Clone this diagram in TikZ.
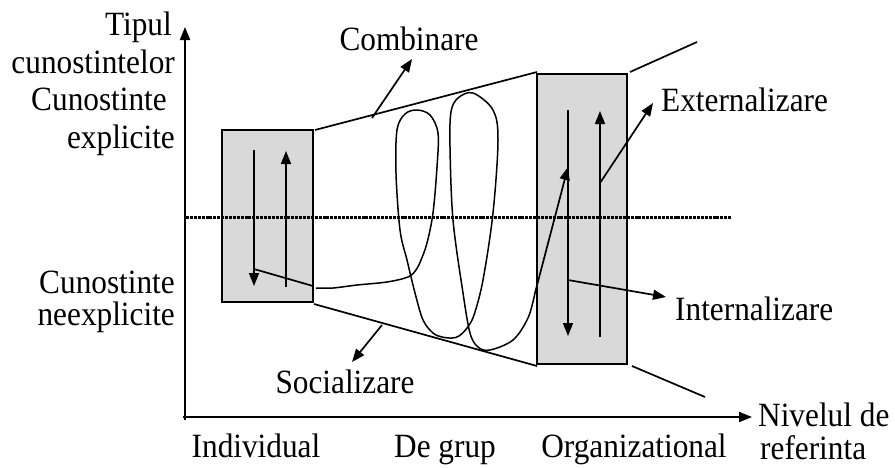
\documentclass[tikz,border=0pt]{standalone}
\usepackage{fontspec}
\setmainfont{Liberation Serif}[FakeStretch=0.92]
\usetikzlibrary{arrows.meta}
\begin{document}
\begin{tikzpicture}[x=1pt,y=-1pt,
  lbl/.style={inner sep=0pt,font=\fontsize{34}{40}\selectfont},
  boxnode/.style={draw,line width=1.8pt,fill=gray!30,inner sep=0pt},
  ln/.style={line width=1.7pt},
  arr/.style={line width=1.7pt,-{Triangle[length=13pt,width=10pt]}},
  axisarr/.style={line width=2pt,-{Triangle[length=13pt,width=10pt]}},
  dots/.style={line width=3pt,dash pattern=on 3pt off 0.9pt}]
\useasboundingbox (0,0) rectangle (895,467);
% axes
\coordinate (O) at (185,420);
\coordinate (Ytop) at (185,27);
\coordinate (Oh) at (183,417);
\coordinate (Xend) at (752,417);
\draw[axisarr] (O) -- (Ytop);
\draw[axisarr] (Oh) -- (Xend);
% axis labels
\node[lbl,anchor=base east] (t1) at (172,35) {Tipul};
\node[lbl,anchor=base east] (t2) at (175,73) {cunostintelor};
\node[lbl,anchor=base east] (t3) at (167,110) {Cunostinte};
\node[lbl,anchor=base east] (t4) at (175,148) {explicite};
\node[lbl,anchor=base east] (t5) at (175,293) {Cunostinte};
\node[lbl,anchor=base east] (t6) at (175,325) {neexplicite};
\node[lbl,anchor=base] (b1) at (256,457) {Individual};
\node[lbl,anchor=base] (b2) at (445,457) {De grup};
\node[lbl,anchor=base] (b3) at (634,457) {Organizational};
\node[lbl,anchor=base west] (n1) at (758,426) {Nivelul de};
\node[lbl,anchor=base west] (n2) at (760,459) {referinta};
% boxes
\node[boxnode,minimum width=91pt,minimum height=172pt] (boxL) at (267.5,216) {};
\node[boxnode,minimum width=90pt,minimum height=290pt] (boxR) at (582,219) {};
% trapezoid lines
\coordinate (tl1) at (315,130); \coordinate (tl2) at (537,72);
\coordinate (bl1) at (314,304); \coordinate (bl2) at (537,366);
\coordinate (tr1) at (630,72); \coordinate (tr2) at (697,42);
\coordinate (br1) at (632,366); \coordinate (br2) at (705,397);
\draw[ln] (tl1) -- (tl2);
\draw[ln] (bl1) -- (bl2);
\draw[ln] (tr1) -- (tr2);
\draw[ln] (br1) -- (br2);
% arrows in left box
\coordinate (la1) at (254,150); \coordinate (la2) at (254,286);
\coordinate (lb1) at (286,287); \coordinate (lb2) at (286,151);
\draw[arr] (la1) -- (la2);
\draw[arr] (lb1) -- (lb2);
\coordinate (lc1) at (254,269); \coordinate (lc2) at (313,286);
\draw[ln] (lc1) -- (lc2);
% arrows in right box
\coordinate (ra1) at (568,110); \coordinate (ra2) at (568,336);
\coordinate (rb1) at (600,337); \coordinate (rb2) at (600,111);
\draw[arr] (ra1) -- (ra2);
\draw[arr] (rb1) -- (rb2);
% spiral
\draw[line width=1.5pt] plot[smooth,tension=0.55] coordinates {
 (316,288) (333,288) (357,285) (387,282) (408,277) (416,270) (421,260)
 (427,243) (433,213) (437,167) (438,133) (430,115) (417,110) (405,114)
 (397,130) (396,173) (400,230) (407,260) (415,293) (423,320) (433,333)
 (442,337) (452,338) (459,336) (467,328) (474,315) (483,280) (493,213)
 (498,140) (493,110) (473,93) (458,98) (451,112) (450,147) (453,220)
 (463,293) (470,333) (478,347) (490,350) (513,340) (528,318) (535,293)};
\coordinate (sp) at (535,293);
\coordinate (spt) at (568,167);
\draw[arr] (sp) -- (spt);
% labels with arrows
\node[lbl,anchor=base] (comb) at (409,50) {Combinare};
\coordinate (c1) at (372,118); \coordinate (c2) at (412,59);
\draw[arr] (c1) -- (c2);
\node[lbl,anchor=base] (soc) at (345,393) {Socializare};
\coordinate (s1) at (382,325); \coordinate (s2) at (352,362);
\draw[arr] (s1) -- (s2);
\node[lbl,anchor=base west] (ext) at (661,111) {Externalizare};
\coordinate (e1) at (600,183); \coordinate (e2) at (653,103);
\draw[arr] (e1) -- (e2);
\node[lbl,anchor=base west] (int) at (675,320) {Internalizare};
\coordinate (i1) at (568,280); \coordinate (i2) at (666,297);
\draw[arr] (i1) -- (i2);
% dotted separator
\coordinate (d1) at (186,217); \coordinate (d2) at (731,217);
\draw[dots] (d1) -- (d2);
\end{tikzpicture}
\end{document}
